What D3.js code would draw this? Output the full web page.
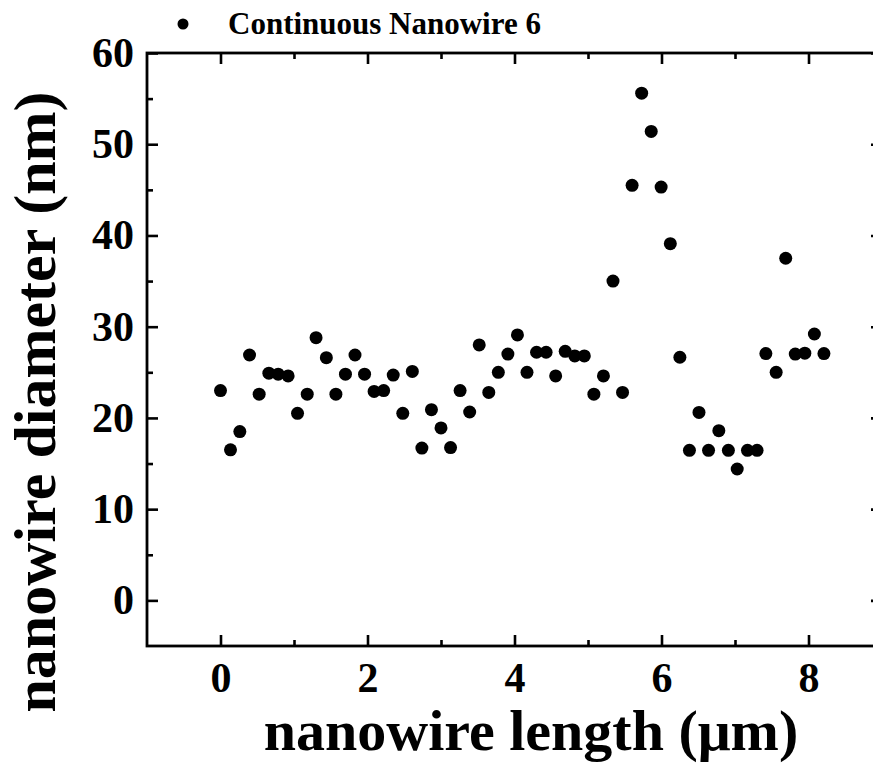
<!DOCTYPE html>
<html>
<head>
<meta charset="utf-8">
<script src="https://cdn.jsdelivr.net/npm/d3@7"></script>
<style>
  html, body { margin: 0; padding: 0; background: #fff; }
  svg { display: block; }
  text { font-family: "Liberation Serif", "Times New Roman", Times, serif; font-weight: bold; fill: #000; }
</style>
</head>
<body>
<svg id="chart" width="873" height="767"></svg>
<script>
// ---- data ----
const seriesName = "Continuous Nanowire 6";
const lengthUm = [0, 0.136, 0.263, 0.395, 0.526, 0.658, 0.785, 0.92, 1.048, 1.18, 1.30, 1.44, 1.57, 1.70, 1.83, 1.96,
  2.09, 2.22, 2.35, 2.48, 2.61, 2.74, 2.87, 3.00, 3.13, 3.26, 3.39, 3.52, 3.65, 3.78, 3.91, 4.04, 4.17, 4.30, 4.43,
  4.56, 4.69, 4.82, 4.95, 5.08, 5.21, 5.34, 5.47, 5.60, 5.73, 5.86, 5.995, 6.12, 6.25, 6.38, 6.51, 6.64, 6.78, 6.91,
  7.03, 7.17, 7.30, 7.42, 7.56, 7.69, 7.82, 7.95, 8.08, 8.21];
const diameterNm = [23.0, 16.5, 18.5, 26.9, 22.6, 24.9, 24.8, 24.6, 20.5, 22.6, 28.8, 26.6, 22.6, 24.8, 26.9, 24.8,
  22.9, 23.0, 24.7, 20.5, 25.1, 16.7, 20.9, 18.9, 16.75, 23.0, 20.65, 28.0, 22.8, 25.0, 27.0, 29.1, 25.0, 27.2, 27.2,
  24.6, 27.3, 26.8, 26.8, 22.6, 24.6, 35.0, 22.8, 45.5, 55.6, 51.4, 45.3, 39.1, 26.65, 16.45, 20.6, 16.45, 18.6, 16.45,
  14.4, 16.45, 16.45, 27.05, 25.0, 37.5, 27.0, 27.1, 29.2, 27.05];
const xMajorTicks = [0, 2, 4, 6, 8];
const xMinorTicks = [1, 3, 5, 7];
const yMajorTicks = [0, 10, 20, 30, 40, 50, 60];
const yMinorTicks = [5, 15, 25, 35, 45, 55];
const xTitle = "nanowire length (\u03bcm)";
const yTitle = "nanowire diameter (nm)";

const points = lengthUm.map((x, i) => ({ x, y: diameterNm[i] }));

// ---- layout ----
const svg = d3.select("#chart");
const L = 147, R = 882, T = 53, B = 646;
const x = d3.scaleLinear().domain([-1, 9]).range([L, R]);
const y = d3.scaleLinear().domain([-5, 60]).range([B, T]);

const majorLen = 11, minorLen = 6, tickW = 2.6;

function styleAxis(g) {
  g.select(".domain").remove();
  g.selectAll(".tick line").attr("stroke", "#000").attr("stroke-width", tickW);
}

// bottom axis (major with labels)
svg.append("g").attr("transform", `translate(0,${B})`)
  .call(d3.axisBottom(x).tickValues(xMajorTicks).tickSize(-majorLen).tickPadding(16).tickFormat(d3.format("d")))
  .call(styleAxis)
  .call(g => g.selectAll("text").attr("font-size", 42).attr("font-family", null));
svg.append("g").attr("transform", `translate(0,${B})`)
  .call(d3.axisBottom(x).tickValues(xMinorTicks).tickSize(-minorLen).tickFormat(""))
  .call(styleAxis);
// top axis
svg.append("g").attr("transform", `translate(0,${T})`)
  .call(d3.axisTop(x).tickValues(xMajorTicks).tickSize(-majorLen).tickFormat(""))
  .call(styleAxis);
svg.append("g").attr("transform", `translate(0,${T})`)
  .call(d3.axisTop(x).tickValues(xMinorTicks).tickSize(-minorLen).tickFormat(""))
  .call(styleAxis);
// left axis
svg.append("g").attr("transform", `translate(${L},0)`)
  .call(d3.axisLeft(y).tickValues(yMajorTicks).tickSize(-majorLen).tickPadding(13).tickFormat(d3.format("d")))
  .call(styleAxis)
  .call(g => g.selectAll("text").attr("font-size", 42).attr("font-family", null));
svg.append("g").attr("transform", `translate(${L},0)`)
  .call(d3.axisLeft(y).tickValues(yMinorTicks).tickSize(-minorLen).tickFormat(""))
  .call(styleAxis);
// right axis
svg.append("g").attr("transform", `translate(${R},0)`)
  .call(d3.axisRight(y).tickValues(yMajorTicks).tickSize(-majorLen).tickFormat(""))
  .call(styleAxis);
svg.append("g").attr("transform", `translate(${R},0)`)
  .call(d3.axisRight(y).tickValues(yMinorTicks).tickSize(-minorLen).tickFormat(""))
  .call(styleAxis);

// frame
svg.append("rect")
  .attr("x", L).attr("y", T).attr("width", R - L).attr("height", B - T)
  .attr("fill", "none").attr("stroke", "#000").attr("stroke-width", 2.8);

// points
svg.append("g").selectAll("circle").data(points).join("circle")
  .attr("cx", d => x(d.x)).attr("cy", d => y(d.y)).attr("r", 6.5).attr("fill", "#000");

// axis titles
svg.append("text")
  .attr("x", 531).attr("y", 750)
  .attr("text-anchor", "middle").attr("font-size", 58)
  .text(xTitle);
svg.append("text")
  .attr("transform", `translate(55,402) rotate(-90)`)
  .attr("text-anchor", "middle").attr("font-size", 60)
  .text(yTitle);

// legend
svg.append("circle").attr("cx", 183).attr("cy", 24).attr("r", 5.5).attr("fill", "#000");
svg.append("text").attr("x", 228).attr("y", 34).attr("font-size", 31).text(seriesName);
</script>
</body>
</html>
